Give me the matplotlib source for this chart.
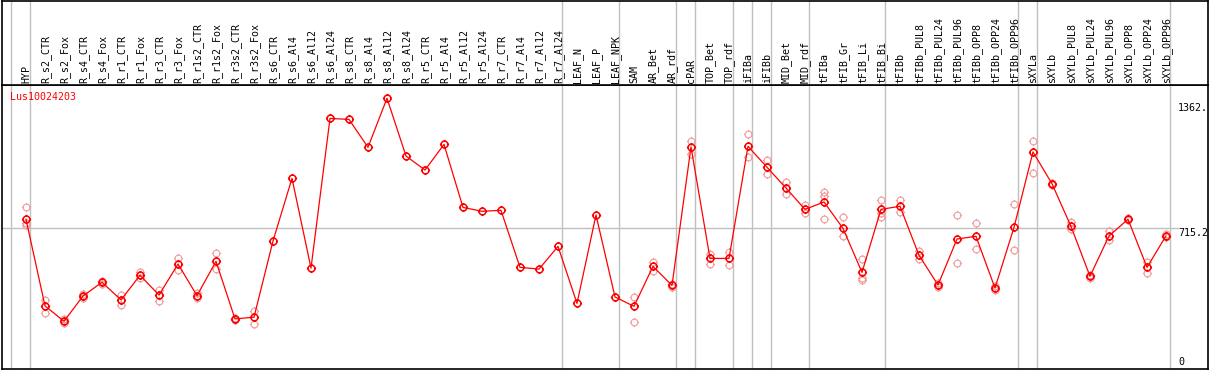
import numpy as np
import matplotlib
matplotlib.use("Agg")
import matplotlib.pyplot as plt
from matplotlib.path import Path
from matplotlib.lines import Line2D

# sample labels along the top
samples = [
    "HYP", "R_s2_CTR", "R_s2_Fox", "R_s4_CTR", "R_s4_Fox", "R_r1_CTR", "R_r1_Fox",
    "R_r3_CTR", "R_r3_Fox", "R_r1s2_CTR", "R_r1s2_Fox", "R_r3s2_CTR", "R_r3s2_Fox",
    "R_s6_CTR", "R_s6_Al4", "R_s6_Al12", "R_s6_Al24", "R_s8_CTR", "R_s8_Al4",
    "R_s8_Al12", "R_s8_Al24", "R_r5_CTR", "R_r5_Al4", "R_r5_Al12", "R_r5_Al24",
    "R_r7_CTR", "R_r7_Al4", "R_r7_Al12", "R_r7_Al24", "LEAF_N", "LEAF_P", "LEAF_NPK",
    "SAM", "AR_Bet", "AR_rdf", "cPAR", "TOP_Bet", "TOP_rdf", "iFIBa", "iFIBb",
    "MID_Bet", "MID_rdf", "tFIBa", "tFIB_Gr", "tFIB_Li", "tFIB_Bi", "tFIBb",
    "tFIBb_PUL8", "tFIBb_PUL24", "tFIBb_PUL96", "tFIBb_OPP8", "tFIBb_OPP24",
    "tFIBb_OPP96", "sXYLa", "sXYLb", "sXYLb_PUL8", "sXYLb_PUL24", "sXYLb_PUL96",
    "sXYLb_OPP8", "sXYLb_OPP24", "sXYLb_OPP96",
]

# mean expression per sample
means = [
    762, 315, 236, 366, 437, 346, 473, 371, 531, 368, 545, 248, 257,
    650, 973, 510, 1282, 1277, 1133, 1386, 1088, 1016, 1148, 823, 803,
    808, 514, 505, 622, 328, 784, 361,
    313, 519, 421, 1135, 560, 560, 1138, 1030, 923, 813,
    851, 715, 488, 813, 829, 576, 423, 660, 674, 407, 720,
    1109, 945, 725, 468, 676, 762, 514, 676,
]

# individual replicates (light circles)
replicates = [
    [825, 741, 732], [345, 280], [245, 228], [375, 358], [446, 428], [371, 320],
    [490, 460], [397, 342], [560, 499], [380, 358], [588, 504], [255, 242], [289, 223],
    [], [], [], [], [], [], [], [], [], [], [], [], [], [], [], [], [], [], [],
    [361, 230], [543, 497], [428, 415], [1166, 1100], [584, 533], [595, 528],
    [1200, 1083], [1066, 994], [953, 891], [835, 796],
    [904, 883, 762], [772, 677], [555, 457, 449], [860, 793, 775], [860, 801],
    [600, 557], [432, 414], [784, 535], [743, 609], [417, 399], [841, 603],
    [1164, 999], [950, 940], [746, 712], [477, 461], [701, 653], [768, 757],
    [543, 483], [687, 668],
]

# group separators: after these sample indices
separators = [-1, 0, 28, 31, 34, 35, 37, 38, 39, 41, 45, 52, 53, 60]

gene = "Lus10024203"
ref_ticks = [(1362, "1362."), (715.2, "715.2")]

W, H = 1209, 370
fig = plt.figure(figsize=(W / 100, H / 100), dpi=100)
fig.patch.set_facecolor("white")

font = dict(family="DejaVu Sans Mono", size=7.2)
grid_c = "#c0c0c0"
red = "#ff0000"
pink = "#f09a9a"

x0, x1 = 1.5, 1207.5
y_head = 85
y_bot = 369
col0, dx = 26, 19

ax = fig.add_axes([x0 / W, (H - y_bot) / H, (x1 - x0) / W, (y_bot - y_head) / H])
head = fig.add_axes([x0 / W, (H - y_head) / H, (x1 - x0) / W, (y_head - 0.5) / H], sharex=ax)

ax.set_xlim((x0 - col0) / dx, (x1 - col0) / dx)
ax.set_ylim((367 - y_bot) / 0.1939, (367 - y_head) / 0.1939)
head.set_ylim(0, 1)

for a in (ax, head):
    a.set_xticks([])
    a.set_yticks([])
    for s in a.spines.values():
        s.set_color("black")
        s.set_linewidth(1.2)

# vertical group separators through both panels
for s in separators:
    for a in (ax, head):
        a.axvline(s + 0.21, color=grid_c, lw=1.0, zorder=0)

# reference gridline
ax.axhline(715.2, xmin=0, xmax=(1178 - x0) / (x1 - x0), color=grid_c, lw=1.0, zorder=0)

# marker: circle with small outward ticks
t = 1.35
verts = list(Path.unit_circle().vertices)
codes = list(Path.unit_circle().codes)
for (a, b) in [((0, 1), (0, t)), ((0, -1), (0, -t)), ((1, 0), (t, 0)), ((-1, 0), (-t, 0))]:
    verts += [a, b]
    codes += [Path.MOVETO, Path.LINETO]
mk = Path(verts, codes)

xs = np.arange(len(samples))
rx, ry = [], []
for i, reps in enumerate(replicates):
    for v in reps:
        rx.append(i)
        ry.append(v)
ax.plot(rx, ry, ls="none", marker=mk, ms=6.6, mfc="none", mec=pink, mew=0.8, zorder=2)
ax.plot(xs, means, color=red, lw=0.9, zorder=3)
ax.plot(xs, means, ls="none", marker=mk, ms=6.6, mfc="none", mec=red, mew=1.1, zorder=4)

# sample labels
for i, lab in enumerate(samples):
    head.text(i + 0.02, 2 / y_head, lab, rotation=90, ha="center", va="bottom",
              color="black", **font)

# title and scale labels
ax.text((10 - col0) / dx, 1 - 12 / (y_bot - y_head), gene, transform=ax.get_xaxis_transform(),
        ha="left", va="center", color=red, **font)
xl = (1178 - col0) / dx
for v, s in ref_ticks:
    ax.text(xl, v, s, ha="left", va="top", color="black", clip_on=False, **font)
ax.text(xl, 0, "0", ha="left", va="bottom", color="black", **font)

fig.savefig("out.png", dpi=100, facecolor="white")
